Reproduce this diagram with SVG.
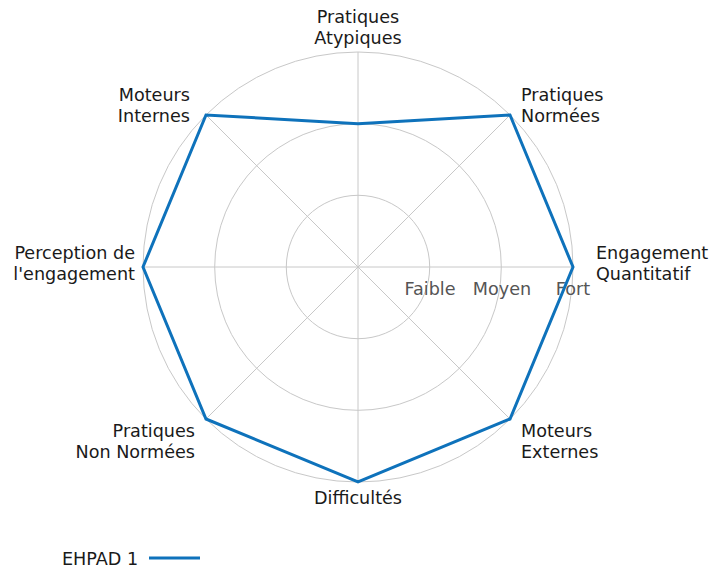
<svg xmlns="http://www.w3.org/2000/svg" width="711" height="571" viewBox="0 0 711 571">
<style>
text{font-family:"DejaVu Sans",sans-serif;font-size:17.6px;fill:#1a1a1a}
.grid{fill:none;stroke:#c8c8c8;stroke-width:1}
.tick{fill:#555555}
.series{fill:none;stroke:#0e72bb;stroke-width:3;stroke-linejoin:miter}
</style>
<rect width="711" height="571" fill="#ffffff"/>
<g id="grid">
<circle class="grid" cx="358" cy="267" r="71.7"/>
<circle class="grid" cx="358" cy="267" r="143.3"/>
<circle class="grid" cx="358" cy="267" r="215"/>
<line class="grid" x1="358" y1="267" x2="358" y2="52"/>
<line class="grid" x1="358" y1="267" x2="510" y2="115"/>
<line class="grid" x1="358" y1="267" x2="573" y2="267"/>
<line class="grid" x1="358" y1="267" x2="510" y2="419"/>
<line class="grid" x1="358" y1="267" x2="358" y2="482"/>
<line class="grid" x1="358" y1="267" x2="206" y2="419"/>
<line class="grid" x1="358" y1="267" x2="143" y2="267"/>
<line class="grid" x1="358" y1="267" x2="206" y2="115"/>
</g>
<g id="ticks">
<text class="tick" x="430" y="295" text-anchor="middle">Faible</text>
<text class="tick" x="502" y="295" text-anchor="middle">Moyen</text>
<text class="tick" x="573" y="295" text-anchor="middle">Fort</text>
</g>
<g id="series">
<polygon class="series" points="358,123.7 510,115 573,267 510,419 358,482 206,419 143,267 206,115"/>
</g>
<g id="label-atypiques"><text x="358" y="23" text-anchor="middle">Pratiques</text><text x="358" y="44" text-anchor="middle">Atypiques</text></g>
<g id="label-normees"><text x="521" y="101">Pratiques</text><text x="521" y="122">Normées</text></g>
<g id="label-quantitatif"><text x="596" y="259">Engagement</text><text x="596" y="280">Quantitatif</text></g>
<g id="label-externes"><text x="521" y="437">Moteurs</text><text x="521" y="458">Externes</text></g>
<g id="label-difficultes"><text x="358" y="504" text-anchor="middle">Difficultés</text></g>
<g id="label-nonnormees"><text x="195" y="437" text-anchor="end">Pratiques</text><text x="195" y="458" text-anchor="end">Non Normées</text></g>
<g id="label-perception"><text x="135" y="259" text-anchor="end">Perception de</text><text x="135" y="280" text-anchor="end">l'engagement</text></g>
<g id="label-internes"><text x="190" y="101" text-anchor="end">Moteurs</text><text x="190" y="122" text-anchor="end">Internes</text></g>
<g id="legend">
<text x="62" y="565">EHPAD 1</text>
<line x1="149" y1="558" x2="200" y2="558" stroke="#0e72bb" stroke-width="3"/>
</g>
</svg>
